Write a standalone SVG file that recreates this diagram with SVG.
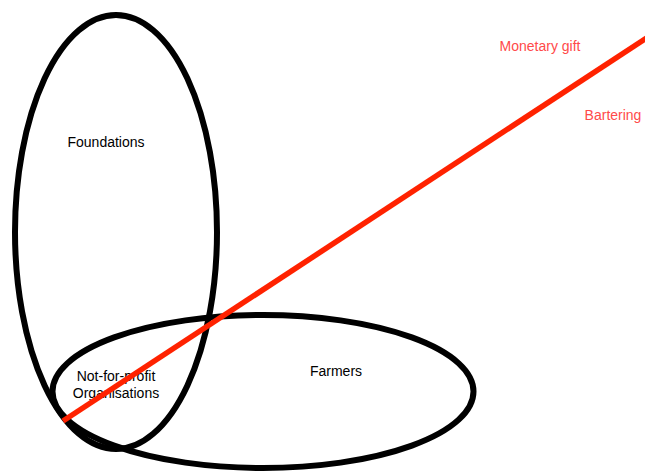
<svg xmlns="http://www.w3.org/2000/svg" width="645" height="472" viewBox="0 0 645 472">
<style>
.set{fill:none;stroke:#000;stroke-width:6}
.lbl{font-family:"Liberation Sans",Arial,sans-serif;font-size:14px;fill:#000;text-anchor:middle}
.rl{font-family:"Liberation Sans",Arial,sans-serif;font-size:14px;fill:#ff4a4a;text-anchor:middle}
.flow{stroke:#ff2200;stroke-width:5.5;fill:none}
</style>
<rect width="645" height="472" fill="#fff"/>
<g id="foundations">
<ellipse class="set" cx="116" cy="232" rx="101" ry="217"/>
<text class="lbl" x="106" y="147">Foundations</text>
</g>
<g id="farmers">
<ellipse class="set" cx="263" cy="391.5" rx="210.5" ry="76.5"/>
<text class="lbl" x="336" y="376">Farmers</text>
</g>
<g id="nfp">
<text class="lbl" x="116" y="381">Not-for-profit</text>
<text class="lbl" x="116" y="398">Organisations</text>
</g>
<g id="connectors">
<line class="flow" x1="63" y1="421" x2="648" y2="37"/>
<text class="rl" x="540" y="51">Monetary gift</text>
<text class="rl" x="613" y="120">Bartering</text>
</g>
</svg>
